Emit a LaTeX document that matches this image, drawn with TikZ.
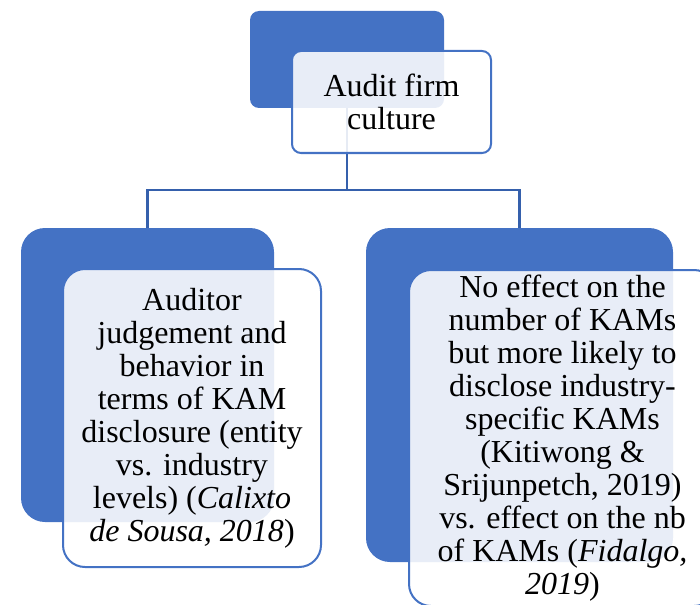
\documentclass[tikz,border=0pt]{standalone}
\usepackage{fontspec}
\setmainfont{Liberation Serif}
\definecolor{boxblue}{HTML}{4472C4}
\definecolor{lineblue}{HTML}{3560AC}

\begin{document}
\begin{tikzpicture}[x=1pt,y=-1pt,
    backnode/.style={rectangle, fill=boxblue, inner sep=0pt},
    frontnode/.style={rectangle, draw=boxblue, line width=2pt, fill=white, fill opacity=0.88, text opacity=1, inner sep=0pt, align=center, font=\fontsize{32}{33}\selectfont},
    linkline/.style={draw=lineblue, line width=2.2pt}
    ]
    \useasboundingbox (0,0) rectangle (700,604);
    \clip (0,0) rectangle (700,604);

    \node [backnode, rounded corners=9pt, minimum width=194pt, minimum height=97pt] (firmback) at (347,59.5) {};
    \node [backnode, rounded corners=24pt, minimum width=253pt, minimum height=294pt] (judgeback) at (147.5,375) {};
    \node [backnode, rounded corners=24pt, minimum width=307pt, minimum height=334pt] (kamback) at (519.5,395) {};

    \draw [linkline] (firmback.south) -- ++(0,82) -| (judgeback.north);
    \draw [linkline] (firmback.south) -- ++(0,82) -| (kamback.north);

    \node [frontnode, rounded corners=9pt, minimum width=199pt, minimum height=102pt] (firm) at (391.5,102) {Audit firm\\culture};
    \node [frontnode, rounded corners=22pt, minimum width=258pt, minimum height=298pt] (judge) at (192,418)
      {Auditor\\judgement and\\behavior in\\terms of KAM\\disclosure (entity\\vs. industry\\levels) (\textit{Calixto}\\\textit{de Sousa, 2018})};
    \node [frontnode, rounded corners=22pt, minimum width=307pt, minimum height=336pt] (kam) at (562.5,438)
      {No effect on the\\number of KAMs\\but more likely to\\disclose industry-\\specific KAMs\\(Kitiwong \&\\Srijunpetch, 2019)\\vs. effect on the nb\\of KAMs (\textit{Fidalgo,}\\\textit{2019})};
\end{tikzpicture}
\end{document}
